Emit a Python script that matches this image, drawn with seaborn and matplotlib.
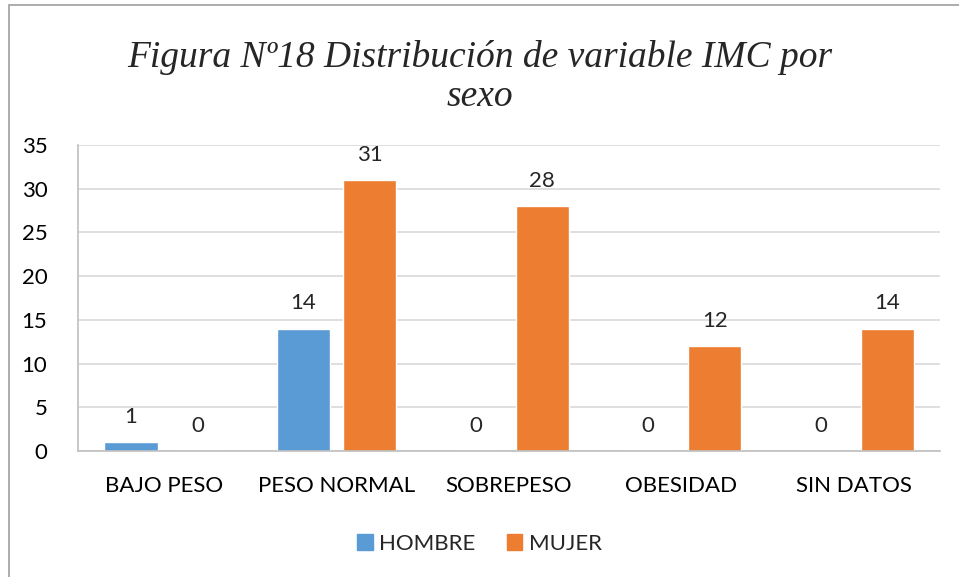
import numpy as np
import matplotlib
matplotlib.use("Agg")
import matplotlib.pyplot as plt
import matplotlib.patches as mpatches
import pandas as pd
import seaborn as sns

# data
categorias = ["BAJO PESO", "PESO NORMAL", "SOBREPESO", "OBESIDAD", "SIN DATOS"]
hombre = [1, 14, 0, 0, 0]
mujer = [0, 31, 28, 12, 14]
series = ["HOMBRE", "MUJER"]
colores = ["#5B9BD5", "#ED7D31"]
y_ticks = [0, 5, 10, 15, 20, 25, 30, 35]

df = pd.DataFrame({
    "categoria": categorias * 2,
    "sexo": [series[0]] * len(categorias) + [series[1]] * len(categorias),
    "valor": hombre + mujer,
})

sns.set_style("white")
plt.rcParams['font.family'] = ['Lato', 'DejaVu Sans']

fig = plt.figure(figsize=(9.59, 5.77), dpi=100)
ax = fig.add_axes([0.0813, 0.2184, 0.899, 0.5303])

sns.barplot(data=df, x="categoria", y="valor", hue="sexo",
            order=categorias, hue_order=series, palette=colores,
            width=0.77, gap=0.2, ax=ax, legend=False, saturation=1)

ax.set_ylim(0, 35)
ax.set_yticks(y_ticks)
ax.yaxis.grid(True, color="#D9D9D9", linewidth=1.2)
ax.set_axisbelow(True)
for s in ["top", "right"]:
    ax.spines[s].set_visible(False)
for s in ["left", "bottom"]:
    ax.spines[s].set_color("#BFBFBF")
    ax.spines[s].set_linewidth(1.2)
ax.tick_params(axis="both", length=0, labelsize=16, colors="black")
ax.tick_params(axis="x", pad=18)
ax.tick_params(axis="y", pad=22)
ax.set_xlabel("")
ax.set_ylabel("")

# data labels above each bar
for cont in ax.containers:
    ax.bar_label(cont, fmt="%d", padding=11, fontsize=16)

fig.text(0.5, 0.900, "Figura Nº18 Distribución de variable IMC por",
         ha="center", va="center", fontsize=27, style="italic",
         family="Liberation Serif")
fig.text(0.5, 0.832, "sexo", ha="center", va="center", fontsize=27,
         style="italic", family="Liberation Serif")

handles = [mpatches.Patch(color=c, label=l) for c, l in zip(colores, series)]
fig.legend(handles=handles, loc="center", bbox_to_anchor=(0.5, 0.058), ncol=2,
           frameon=False, fontsize=16, handlelength=0.7, handleheight=0.7,
           handletextpad=0.3, columnspacing=1.4)

# outer chart border
fig.patches.append(mpatches.Rectangle((9 / 959, -0.1), 1.2, 1 - 5 / 577 + 0.1,
                                      transform=fig.transFigure, fill=False,
                                      edgecolor="#A6A6A6", linewidth=1.3))

fig.savefig("out.png", dpi=100)
